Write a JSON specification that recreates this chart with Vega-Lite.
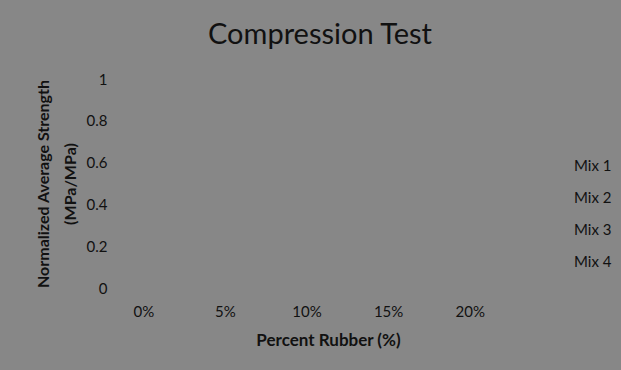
{
  "$schema": "https://vega.github.io/schema/vega-lite/v6.json",
  "autosize": "none",
  "width": 408,
  "height": 209,
  "padding": {"left": 103, "top": 79, "right": 110, "bottom": 82},
  "background": "#878787",
  "title": {
    "text": "Compression Test",
    "font": "Lato",
    "fontSize": 29,
    "fontWeight": "normal",
    "color": "#111111",
    "anchor": "middle",
    "dx": 13,
    "offset": 22
  },
  "data": {
    "values": [
      {"mix": "Mix 1", "rubber": "0%", "strength": null},
      {"mix": "Mix 1", "rubber": "5%", "strength": null},
      {"mix": "Mix 1", "rubber": "10%", "strength": null},
      {"mix": "Mix 1", "rubber": "15%", "strength": null},
      {"mix": "Mix 1", "rubber": "20%", "strength": null},
      {"mix": "Mix 2", "rubber": "0%", "strength": null},
      {"mix": "Mix 2", "rubber": "5%", "strength": null},
      {"mix": "Mix 2", "rubber": "10%", "strength": null},
      {"mix": "Mix 2", "rubber": "15%", "strength": null},
      {"mix": "Mix 2", "rubber": "20%", "strength": null},
      {"mix": "Mix 3", "rubber": "0%", "strength": null},
      {"mix": "Mix 3", "rubber": "5%", "strength": null},
      {"mix": "Mix 3", "rubber": "10%", "strength": null},
      {"mix": "Mix 3", "rubber": "15%", "strength": null},
      {"mix": "Mix 3", "rubber": "20%", "strength": null},
      {"mix": "Mix 4", "rubber": "0%", "strength": null},
      {"mix": "Mix 4", "rubber": "5%", "strength": null},
      {"mix": "Mix 4", "rubber": "10%", "strength": null},
      {"mix": "Mix 4", "rubber": "15%", "strength": null},
      {"mix": "Mix 4", "rubber": "20%", "strength": null}
    ]
  },
  "mark": {"type": "line", "point": true},
  "encoding": {
    "x": {
      "field": "rubber",
      "type": "ordinal",
      "sort": null,
      "scale": {"type": "band", "domain": ["0%", "5%", "10%", "15%", "20%"], "paddingInner": 0, "paddingOuter": 0},
      "axis": {
        "title": "Percent Rubber (%)",
        "titleFontSize": 17,
        "labelAngle": 0,
        "labelPadding": 16,
        "titlePadding": 13,
        "titleX": 225,
        "domain": false,
        "ticks": false,
        "grid": false
      }
    },
    "y": {
      "field": "strength",
      "type": "quantitative",
      "scale": {"domain": [0, 1], "nice": false},
      "axis": {
        "title": ["Normalized Average Strength", "(MPa/MPa)"],
        "titleFontSize": 16,
        "titleLineHeight": 27,
        "titlePadding": 8,
        "values": [0, 0.2, 0.4, 0.6, 0.8, 1],
        "format": "~g",
        "labelPadding": -4,
        "domain": false,
        "ticks": false,
        "grid": false
      }
    },
    "color": {
      "field": "mix",
      "type": "nominal",
      "scale": {"domain": ["Mix 1", "Mix 2", "Mix 3", "Mix 4"], "range": ["#4f81bd", "#c0504d", "#9bbb59", "#8064a2"]},
      "legend": {
        "title": null,
        "orient": "none",
        "legendX": 452,
        "legendY": 79,
        "symbolSize": 0,
        "symbolOpacity": 0,
        "symbolStrokeWidth": 0,
        "rowPadding": 16
      }
    }
  },
  "config": {
    "font": "Lato",
    "view": {"stroke": null},
    "axis": {
      "labelFont": "Lato",
      "labelFontSize": 15,
      "labelColor": "#111111",
      "titleFont": "Lato",
      "titleFontWeight": "bold",
      "titleColor": "#111111"
    },
    "legend": {
      "labelFont": "Lato",
      "labelFontSize": 15,
      "labelColor": "#111111"
    }
  }
}
